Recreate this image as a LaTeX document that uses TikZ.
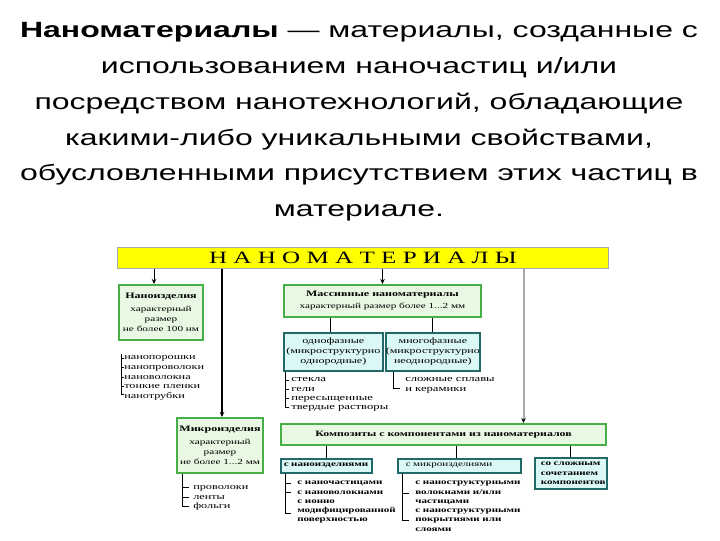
\documentclass[tikz,border=0pt]{standalone}
\usepackage{fontspec}
\setmainfont{Liberation Serif}[FakeStretch=1.45]
\newfontfamily\titlefont{Liberation Sans}[FakeStretch=1.45]
\usetikzlibrary{arrows.meta, positioning}
\usepackage{xcolor}
\newlength\pu
\setlength\pu{0.025cm}
\definecolor{bandyellow}{RGB}{255,255,0}
\definecolor{boxgreen}{RGB}{70,175,70}
\definecolor{boxgreenfill}{RGB}{232,248,226}
\definecolor{boxteal}{RGB}{35,105,105}
\definecolor{boxtealfill}{RGB}{218,248,246}

\begin{document}
\begin{tikzpicture}[x=1\pu, y=-1\pu,
        band/.style={draw=gray!70, fill=bandyellow, line width=1\pu, anchor=north west, inner sep=0, font=\fontsize{12.3}{14}\selectfont},
        greenbox/.style={draw=boxgreen, fill=boxgreenfill, line width=2\pu, anchor=north west, inner sep=0, align=center, font=\fontsize{5.5}{7.1}\selectfont},
        tealbox/.style={draw=boxteal, fill=boxtealfill, line width=1.6\pu, anchor=north west, inner sep=0, align=center, font=\fontsize{5.9}{7.1}\selectfont},
        itemlist/.style={anchor=base west, inner sep=0, align=left, font=\fontsize{6}{6.8}\selectfont},
        boldlist/.style={itemlist, font=\fontsize{5.4}{6.55}\selectfont\bfseries},
        arr/.style={-{Stealth[length=3.6pt, width=3.2pt]}, line width=1\pu},
        link/.style={line width=1\pu}
    ]
        \useasboundingbox (0,0) rectangle (720,540);

        % caption
        \node[anchor=north, inner sep=0, align=center, font=\titlefont\fontsize{15.7}{25.5}\selectfont] (caption) at (359,22)
            {\textbf{Наноматериалы} — материалы, созданные с\\использованием наночастиц и/или\\посредством нанотехнологий, обладающие\\какими-либо уникальными свойствами,\\обусловленными присутствием этих частиц в\\материале.};

        \node[band, minimum width=491\pu, minimum height=21\pu] (band) at (117,247) {Н А Н О М А Т Е Р И А Л Ы\hspace{10\pu}};

        % left branch (lists are placed at the baseline of their last line)
        \node[greenbox, minimum width=84\pu, minimum height=55\pu] (nanoizd) at (118,284)
            {\fontsize{5.9}{7.1}\selectfont\textbf{Наноизделия}\\[3\pu]характерный\\размер\\не более 100 нм};
        \node[itemlist] (nanoizdlist) at (124,398.2) {нанопорошки\\нанопроволоки\\нановолокна\\тонкие пленки\\нанотрубки};
        \node[greenbox, minimum width=86\pu, minimum height=55\pu] (mikroizd) at (176,417)
            {\fontsize{5.9}{7.1}\selectfont\textbf{Микроизделия}\\[3\pu]характерный\\размер\\не более 1...2 мм};
        \node[itemlist] (mikroizdlist) at (193,508.6) {проволоки\\ленты\\фольги};

        % bulk branch
        \node[greenbox, minimum width=197\pu, minimum height=32\pu] (massiv) at (283,284)
            {\fontsize{5.9}{7.1}\selectfont\textbf{Массивные наноматериалы}\\[2\pu]характерный размер более 1...2 мм};
        \node[tealbox, minimum width=99\pu, minimum height=38\pu] (odnof) at (283,332)
            {однофазные\\(микроструктурно\\однородные)};
        \node[tealbox, minimum width=94\pu, minimum height=38\pu] (mnogof) at (385,332)
            {многофазные\\(микроструктурно\\неоднородные)};
        \node[itemlist, font=\fontsize{6.2}{6.5}\selectfont] (odnoflist) at (291,409.4) {стекла\\гели\\пересыщенные\\твердые растворы};
        \node[itemlist, font=\fontsize{6.2}{6.5}\selectfont] (mnogoflist) at (405,391.1) {сложные сплавы\\и керамики};

        % composites
        \node[greenbox, minimum width=325\pu, minimum height=21\pu] (kompoz) at (280,423)
            {\fontsize{5.8}{7}\selectfont\textbf{Композиты с компонентами из наноматериалов}};
        \node[tealbox, font=\fontsize{5.4}{7}\selectfont\bfseries, align=left, text width=85\pu, inner xsep=3\pu, minimum height=14\pu] (snano) at (280,458) {с наноизделиями};
        \node[tealbox, font=\fontsize{5.4}{7}\selectfont, align=left, text width=107\pu, inner xsep=8\pu, minimum height=14\pu] (smikro) at (397,458) {с микроизделиями};
        \node[tealbox, font=\fontsize{5.4}{6.55}\selectfont\bfseries, align=left, text width=60\pu, inner xsep=6\pu, minimum height=31\pu] (sloj) at (534,457) {со сложным\\сочетанием\\компонентов};
        \node[boldlist] (snanolist) at (297,521.8) {с наночастицами\\с нановолокнами\\с ионно\\модифицированной\\поверхностью};
        \node[boldlist] (smikrolist) at (415,531) {с наноструктурными\\волокнами и/или\\частицами\\с наноструктурными\\покрытиями или\\слоями};

        % arrows from the band
        \draw[arr] ([shift={(-7,0)}]nanoizd.north |- band.south) -- ([shift={(-7,0)}]nanoizd.north);
        \draw[arr, line width=1.6\pu] ([shift={(2,0)}]mikroizd.north |- band.south) -- ([shift={(2,0)}]mikroizd.north);
        \draw[arr] (massiv.north |- band.south) -- (massiv.north);
        \draw[draw=gray!65, line width=2\pu, -{Stealth[length=3.6pt, width=3.2pt, color=black]}] ([shift={(80,0)}]kompoz.north |- band.south) -- ([shift={(80,0)}]kompoz.north);

        % links to sub-boxes
        \draw[link] ([shift={(-3,0)}]odnof.north |- massiv.south) -- ([shift={(-3,0)}]odnof.north);
        \draw[link] (mnogof.north |- massiv.south) -- (mnogof.north);
        \draw[link] (snano.north |- kompoz.south) -- (snano.north);
        \draw[link] ([shift={(-3,0)}]smikro.north |- kompoz.south) -- ([shift={(-3,0)}]smikro.north);
        \draw[link] (sloj.north |- kompoz.south) -- (sloj.north);

        % brackets of the lists
        \draw[link] (121,354) -- (121,394.4) -- (124,394.4);
        \foreach \y in {358,367.6,377.2,386.8}
            \draw[link] (121,\y) -- (123.5,\y);
        \draw[link] (mikroizd.south -| 182,0) -- (182,506.5) -- (189,506.5);
        \foreach \y in {487.5,497}
            \draw[link] (182,\y) -- (189,\y);
        \draw[link] (odnof.south -| 285,0) -- (285,407) -- (289,407);
        \foreach \y in {380,389,398}
            \draw[link] (285,\y) -- (289,\y);
        \draw[link] (mnogof.south -| 393,0) -- (393,388) -- (400,388);
        \draw[link] (snano.south -| 285,0) -- (285,513) -- (291,513);
        \foreach \y in {483,492}
            \draw[link] (285,\y) -- (291,\y);
        \draw[link] (smikro.south -| 402,0) -- (402,520) -- (409,520);
        \draw[link] (402,493) -- (409,493);
    \end{tikzpicture}
\end{document}
